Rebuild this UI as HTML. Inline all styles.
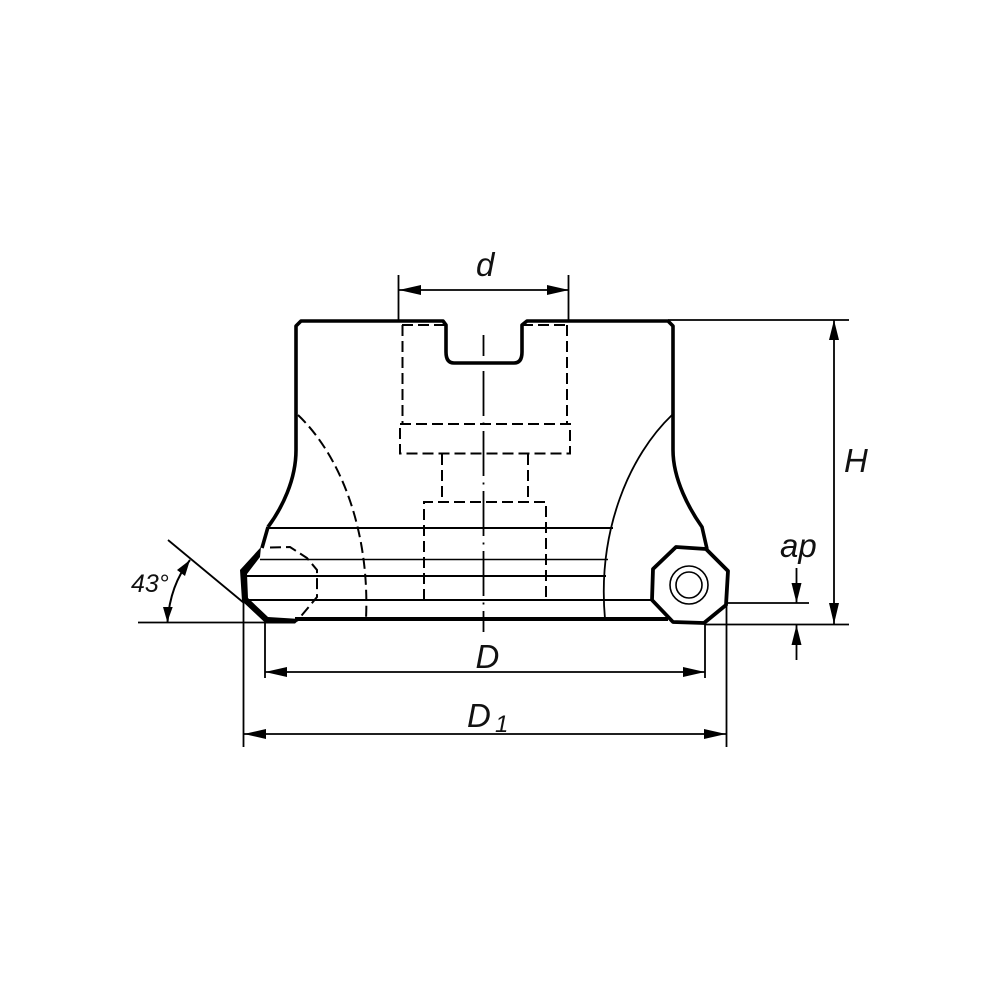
<!DOCTYPE html>
<html>
<head>
<meta charset="utf-8">
<style>
html,body{margin:0;padding:0;background:#fff}
svg{display:block}
text{font-family:"Liberation Sans",sans-serif;font-style:italic;fill:#111}
</style>
</head>
<body>
<svg width="1000" height="1000" viewBox="0 0 1000 1000" xmlns="http://www.w3.org/2000/svg">
<rect width="1000" height="1000" fill="#fff"/>

<!-- thin solid lines inside the body -->
<g stroke="#000" fill="none">
  <path stroke-width="2" d="M268 528H613M247 576H606M245 600H652"/>
  <path stroke-width="1.6" d="M260 559.500H608"/>
  <path stroke-width="1.8" d="M672 415C630 455 597 530 605 619"/>
</g>

<!-- hidden lines -->
<g stroke="#000" stroke-width="2" fill="none" stroke-dasharray="11 5">
  <path d="M402 325H446M522 325H567"/>
  <path d="M402.500 325V424M567 325V424"/>
  <path d="M400 424H570V453.500H400Z"/>
  <path d="M442 454V502M528 454V502"/>
  <path d="M424 600V502H546V600"/>
  <path d="M298 415C340 455 370 530 366 619"/>
  <path d="M270 547.500L290 547L307 558L317 570L317 597L297 621"/>
</g>

<!-- centre line -->
<path d="M483.500 335V632" stroke="#000" stroke-width="1.8" fill="none" stroke-dasharray="45 6.500 2 6.500" stroke-dashoffset="24"/>

<!-- main outline -->
<g stroke="#000" fill="none" stroke-linejoin="round">
  <path stroke-width="3.600" d="M268 527L262 548M296 450V326L301 321H443L446 325V352Q446 363 454 363H514Q522 363 522 352V325L527 321H668L673 326V450C673 480 690 510 702 527L707 549"/>
  <path stroke-width="3.600" d="M296 450C296 480 282 508 268 527"/>
  <path stroke-width="4" d="M295 619H668"/>
  <!-- right insert -->
  <path stroke-width="3.800" fill="#fff" d="M676 547L706 549L728 571L726 605L704 623L673 622L652 600L653 569Z"/>
</g>
<!-- left insert -->
<path fill="#000" d="M261 547L240 570L242 601L266 623.500L295 623.500L300 619L268 617L248 598L247 574L260 557Z"/>
<circle cx="689" cy="585" r="19" fill="none" stroke="#000" stroke-width="1.600"/>
<circle cx="689" cy="585" r="13" fill="none" stroke="#000" stroke-width="1.600"/>

<!-- dimension lines -->
<g stroke="#000" stroke-width="1.800" fill="none">
  <path d="M398.500 275V322M568.500 275V322M399 290H569"/>
  <path d="M668 320H849M705 624.500H849M727 603H809"/>
  <path d="M834 320V624"/>
  <path d="M796.500 568V603M796.500 625V660"/>
  <path d="M138 622.500H268"/>
  <path d="M265 622V678M705 624V678M265 672H705"/>
  <path d="M243.500 600V747M726.500 605V747M244 734H726"/>
  <path d="M168 540L244 603"/>
  <path stroke-width="2" d="M190 560Q170 585 167.500 622"/>
</g>

<!-- arrowheads -->
<g fill="#000">
  <path d="M399 290L421 285V295Z"/>
  <path d="M569 290L547 285V295Z"/>
  <path d="M834 320L829 340H839Z"/>
  <path d="M834 624L829 603H839Z"/>
  <path d="M796.500 603L791.500 583H801.500Z"/>
  <path d="M796.500 625L791.500 645H801.500Z"/>
  <path d="M265 672L287 667V677Z"/>
  <path d="M705 672L683 667V677Z"/>
  <path d="M244 734L266 729V739Z"/>
  <path d="M726 734L704 729V739Z"/>
  <path d="M190 560L185 576L177 570Z"/>
  <path d="M167.300 622L163 607H172.700Z"/>
</g>

<!-- labels -->
<text x="476" y="276" font-size="33">d</text>
<text x="844" y="472" font-size="33">H</text>
<text x="780" y="557" font-size="33">ap</text>
<text x="475.500" y="668" font-size="33">D</text>
<text x="467" y="727" font-size="33">D</text>
<text x="495" y="732" font-size="24">1</text>
<text x="131" y="592" font-size="25">43°</text>
</svg>
</body>
</html>
